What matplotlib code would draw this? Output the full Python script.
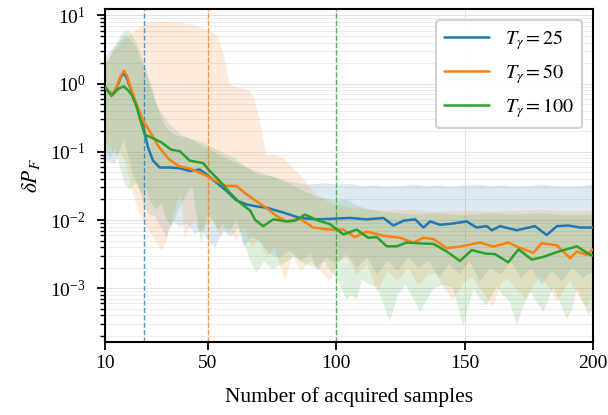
import numpy as np
import matplotlib
matplotlib.use("Agg")
import matplotlib.pyplot as plt

plt.rcParams['font.family'] = 'serif'
plt.rcParams['font.serif'] = ['Liberation Serif', 'DejaVu Serif']
plt.rcParams['mathtext.fontset'] = 'stix'

labels = [r'$T_\gamma = 25$', r'$T_\gamma = 50$', r'$T_\gamma = 100$']
thresholds = [25, 50, 100]
colors = ['#1f77b4', '#ff7f0e', '#2ca02c']

# ---- mean curves (log10 of dP_F) ----
blue_x = [10, 11.5, 13, 15, 16.2, 17.3, 18.5, 20.2, 22.2, 24.8, 26.7, 28.7, 31.3, 35.2, 39.1, 43, 46.9, 49.5,
          53.3, 57.2, 61.1, 65, 69, 73, 79.4, 85.9, 92.4, 98.9, 105.4, 111.9, 118.4, 122.3, 126.2, 130.7,
          134, 136.6, 140.5, 145.6, 150.8, 154.7, 158.6, 160.6, 163.8, 170.3, 177.4, 182, 185.9, 190.4, 195, 200]
blue_log = [-0.05, -0.12, -0.16, -0.02, 0.10, 0.15, 0.08, -0.10, -0.32, -0.615, -0.93, -1.13, -1.23, -1.23, -1.24, -1.28, -1.26, -1.33,
            -1.45, -1.57, -1.71, -1.77, -1.80, -1.82, -1.89, -1.97, -1.99, -1.98, -1.97, -1.99, -1.97, -2.08, -2.01, -1.99,
            -2.11, -2.02, -2.07, -2.05, -2.02, -2.11, -2.09, -2.15, -2.09, -2.15, -2.09, -2.22, -2.09, -2.08, -2.11, -2.11]

orange_x = [10, 11.5, 13, 14.5, 16, 17.3, 18.5, 20.2, 22.2, 24.8, 28.4, 31, 34.9, 38.8, 42.7, 46.5, 49.5, 53.3,
            57.2, 61.1, 65, 68, 71.6, 76.8, 80.7, 85.9, 91.1, 97.6, 102.8, 107.3, 111.9, 118.4, 124.9, 130,
            134, 137.9, 143, 148.2, 156, 161.2, 167, 171.6, 176.8, 180, 185.9, 191.1, 193.7, 197.6, 200]
orange_log = [-0.05, -0.11, -0.15, -0.05, 0.10, 0.187, 0.12, -0.08, -0.295, -0.54, -0.76, -0.93, -1.11, -1.21, -1.24, -1.30, -1.35, -1.43,
              -1.50, -1.50, -1.62, -1.70, -1.79, -1.94, -2.02, -1.98, -2.11, -2.14, -2.14, -2.25, -2.17, -2.23, -2.26, -2.33,
              -2.26, -2.28, -2.41, -2.39, -2.33, -2.39, -2.33, -2.41, -2.48, -2.34, -2.37, -2.56, -2.46, -2.51, -2.43]

green_x = [10, 12.5, 15, 17.3, 19, 20.2, 22.2, 23.5, 25.5, 28, 31.9, 35.8, 39.1, 43, 48.2, 50.8, 54.7, 58.6,
           62.5, 66.5, 68.5, 71.6, 75.5, 80.7, 84, 87.9, 92.4, 97.6, 102.8, 108, 112.5, 115.8, 119.7, 123.6,
           127.4, 134, 137.9, 143, 148.2, 152.8, 158, 161.9, 167, 171, 176.2, 180.7, 185.9, 193.7, 198.9, 200]
green_log = [-0.05, -0.18, -0.08, -0.04, -0.10, -0.15, -0.32, -0.50, -0.75, -0.79, -0.86, -0.97, -0.99, -1.13, -1.165, -1.28, -1.43, -1.60,
             -1.745, -1.86, -2.00, -2.09, -1.99, -2.02, -2.01, -1.92, -2.00, -2.06, -2.21, -2.14, -2.26, -2.25, -2.385, -2.385,
             -2.33, -2.345, -2.35, -2.46, -2.60, -2.44, -2.49, -2.50, -2.62, -2.43, -2.58, -2.54, -2.47, -2.385, -2.51, -2.52]

# ---- band upper edges (log10) ----
blue_up_x = [10, 14, 18, 22, 26, 30, 35, 40, 50, 60, 70, 80, 88, 95, 100, 105, 110, 115, 120, 125, 130, 135,
             140, 145, 150, 155, 160, 165, 170, 175, 180, 185, 190, 195, 200]
blue_up = [0.40, 0.55, 0.72, 0.55, 0.15, -0.30, -0.60, -0.75, -0.95, -1.15, -1.30, -1.42, -1.48, -1.46, -1.48, -1.47,
           -1.50, -1.49, -1.51, -1.50, -1.48, -1.50, -1.49, -1.51, -1.49, -1.48, -1.50, -1.49, -1.51, -1.50, -1.48,
           -1.50, -1.51, -1.50, -1.48]

orange_up_x = [10, 14, 18, 21, 22.2, 26, 30, 35, 40, 44, 48, 52, 54, 56.6, 58.5, 62, 66.3, 68, 70.2, 72.8, 76, 79,
               82, 85, 88.5, 92, 96, 100, 105, 110, 120, 130, 140, 150, 160, 170, 180, 190, 200]
orange_up = [0.30, 0.50, 0.65, 0.76, 0.79, 0.885, 0.90, 0.91, 0.89, 0.86, 0.81, 0.75, 0.69, 0.37, -0.02, -0.06, -0.10,
             -0.20, -0.52, -1.06, -1.04, -1.08, -1.20, -1.30, -1.45, -1.62, -1.72, -1.78, -1.82, -1.84, -1.86, -1.85,
             -1.88, -1.86, -1.88, -1.86, -1.85, -1.87, -1.86]

green_up_x = [10, 12, 14, 16, 18.3, 20, 22.2, 24, 25.5, 28, 30.6, 33.2, 36.4, 40, 43, 48, 53, 58, 61, 66, 70, 75,
              81, 86, 92, 100, 104, 108, 112, 118, 125, 131, 140, 150, 160, 170, 180, 190, 200]
green_up = [0.25, 0.40, 0.55, 0.70, 0.79, 0.75, 0.61, 0.45, 0.27, -0.02, -0.37, -0.61, -0.74, -0.78, -0.80, -0.86,
            -0.96, -1.05, -1.11, -1.25, -1.34, -1.36, -1.45, -1.55, -1.65, -1.72, -1.70, -1.78, -1.84, -1.88, -1.90,
            -1.92, -1.90, -1.93, -1.90, -1.92, -1.90, -1.93, -1.92]

# ---- band lower edges (log10) ----
blue_lo_x = [10, 12, 14, 16, 17.5, 19, 21, 23, 25, 27, 29.5, 31.5, 34, 36.5, 39, 42, 45, 48, 50, 53, 56, 59, 62,
             64, 67, 70, 74, 78, 82, 86, 90, 93, 96, 100, 104, 108, 112, 116, 120, 124, 128, 132, 136, 140, 144,
             148, 152, 156, 160, 164, 168, 172, 176, 180, 184, 188, 192, 196, 200]
blue_lo = [-1.12, -1.15, -1.18, -0.95, -0.82, -1.05, -1.35, -1.50, -1.75, -1.92, -1.95, -2.10, -2.24, -2.02, -2.10,
           -2.05, -2.20, -2.15, -2.30, -2.40, -2.15, -2.25, -2.10, -2.40, -2.25, -2.30, -2.50, -2.55, -2.45, -2.60,
           -2.50, -2.75, -2.55, -2.65, -2.50, -2.70, -2.55, -2.80, -2.60, -2.75, -2.55, -2.70, -2.60, -2.85, -2.65,
           -2.80, -2.60, -2.90, -2.70, -2.80, -2.60, -2.85, -2.70, -2.95, -2.75, -2.90, -2.70, -2.85, -2.75]

orange_lo_x = [10, 12, 14, 16, 18, 20, 22, 24, 26, 28, 30, 32, 34, 36, 38, 39.5, 41, 43, 45, 47, 49, 52, 55, 58, 61,
               64, 67, 70, 73, 76, 80, 83, 86, 90, 94, 97.6, 101, 104, 108, 112, 116, 120, 124, 128, 132, 136, 139,
               142, 145.6, 150, 153, 157, 161, 164, 166.4, 170, 174, 177, 179.4, 183, 186, 189, 191, 194, 197.6, 200]
orange_lo = [-0.85, -0.95, -1.05, -1.00, -1.15, -1.50, -1.75, -1.95, -2.10, -2.20, -2.35, -2.45, -2.30, -2.00, -1.75,
             -1.60, -2.29, -2.10, -2.00, -2.20, -2.10, -2.00, -2.25, -2.10, -2.30, -2.10, -2.40, -2.30, -2.55, -2.40,
             -2.90, -2.50, -2.75, -2.60, -2.75, -2.90, -2.60, -2.55, -2.80, -2.65, -3.05, -2.75, -2.90, -2.70, -2.95,
             -2.80, -2.78, -3.00, -3.17, -2.90, -2.85, -3.05, -3.27, -2.95, -2.85, -3.00, -3.17, -2.95, -2.83, -3.00,
             -3.20, -3.00, -2.90, -3.10, -3.27, -3.10]

green_lo_x = [10, 12, 14, 16, 18, 20, 22, 24, 26, 28, 30, 32, 34, 36, 38, 40, 42, 44, 46, 47.5, 50, 52, 54, 56, 58,
              61, 64, 66.5, 69, 72, 75, 79, 84, 88, 92, 95, 98, 101, 104, 106, 108, 110, 113, 116, 119, 121, 124, 127,
              130, 132.7, 135, 138, 142, 145.6, 149.5, 153.4, 156, 158.6, 162.5, 165, 167.7, 170.3, 173, 175.5, 178,
              180.7, 184.6, 187, 189.8, 192, 193.7, 196, 198.2, 200]
green_lo = [-0.95, -1.10, -0.95, -1.25, -1.50, -1.55, -1.45, -1.60, -1.55, -1.75, -1.85, -1.75, -2.00, -2.10, -1.90,
            -1.75, -1.60, -1.50, -2.00, -2.35, -1.90, -2.00, -2.15, -2.05, -2.20, -2.00, -2.30, -2.60, -2.78, -2.60,
            -2.72, -2.65, -2.54, -2.65, -2.70, -2.60, -2.75, -2.90, -3.17, -3.10, -3.17, -2.88, -2.95, -2.98, -3.30,
            -3.49, -3.10, -2.95, -3.15, -3.35, -3.20, -3.00, -2.95, -3.00, -3.56, -3.00, -3.15, -3.25, -2.98, -3.10,
            -3.20, -3.56, -3.25, -3.05, -3.20, -3.35, -2.98, -3.20, -3.45, -3.30, -3.00, -3.20, -3.40, -3.30]

xlim = (10, 200)
ylim = (1.63e-4, 12.4)
xticks = [10, 50, 100, 150, 200]

series = [
    (blue_x, blue_log, blue_up_x, blue_up, blue_lo_x, blue_lo),
    (orange_x, orange_log, orange_up_x, orange_up, orange_lo_x, orange_lo),
    (green_x, green_log, green_up_x, green_up, green_lo_x, green_lo),
]

fig = plt.figure(figsize=(6.08, 4.15), dpi=100)
ax = fig.add_axes([105 / 608, 1 - 342 / 415, (593 - 105) / 608, (342 - 9) / 415])
ax.set_yscale('log')

for (mx, ml, ux, ul, lx, ll), c in zip(series, colors):
    px = np.r_[np.array(ux), np.array(lx)[::-1]]
    py = np.r_[10 ** np.array(ul), 10 ** np.array(ll)[::-1]]
    ax.fill(px, py, color=c, alpha=0.15, lw=0, zorder=1)

for (mx, ml, ux, ul, lx, ll), c, lab in zip(series, colors, labels):
    ax.plot(mx, 10 ** np.array(ml), color=c, lw=1.8, label=lab, zorder=3,
            solid_joinstyle='round', solid_capstyle='round')

for t, c in zip(thresholds, colors):
    ax.axvline(t, color=c, ls='--', lw=1.0, alpha=0.75, zorder=2)

ax.set_xlim(*xlim)
ax.set_ylim(*ylim)
ax.set_xticks(xticks)
ax.set_xticklabels([str(v) for v in xticks])

ax.grid(True, which='major', color='#e3e3e3', lw=0.8, zorder=0)
ax.grid(True, which='minor', axis='y', color='#ececec', lw=0.7, zorder=0)
ax.set_axisbelow(True)

for s in ax.spines.values():
    s.set_linewidth(1.5)
ax.tick_params(which='major', length=6, width=1.3, labelsize=14, direction='out')
ax.tick_params(which='minor', length=3.5, width=1.0, direction='out')
ax.tick_params(axis='y', which='major', pad=8)

ax.set_xlabel('Number of acquired samples', fontsize=15.5, labelpad=11)
ax.set_ylabel(r'$\delta P_F$', fontsize=15.5, labelpad=6)

leg = ax.legend(loc='upper right', fontsize=14.5, frameon=True, framealpha=0.9,
                edgecolor='#cccccc', fancybox=True, borderaxespad=0.55, handlelength=2.2)
leg.get_frame().set_linewidth(1.5)

fig.savefig('out.png', dpi=100)
